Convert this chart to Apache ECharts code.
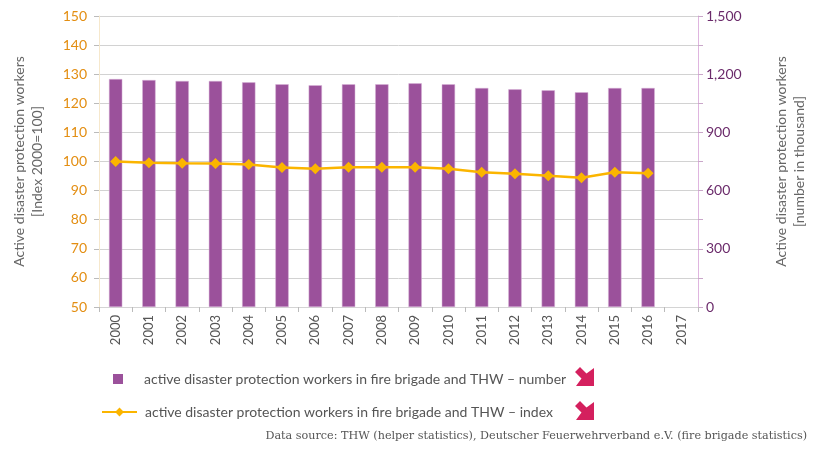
<!DOCTYPE html>
<html>
<head>
<meta charset="utf-8">
<script src="https://cdn.jsdelivr.net/npm/echarts@6/dist/echarts.min.js"></script>
<style>
  html, body { margin: 0; padding: 0; background: #fff; }
  #chart { width: 816px; height: 450px; }
</style>
</head>
<body>
<div id="chart"></div>
<script>
// data
const years = ['2000', '2001', '2002', '2003', '2004', '2005', '2006', '2007', '2008',
  '2009', '2010', '2011', '2012', '2013', '2014', '2015', '2016', '2017']
const workersNumber = [1175, 1170, 1165, 1165, 1158, 1148, 1143, 1148, 1148,
  1153, 1148, 1129, 1122, 1117, 1107, 1129, 1129, null]
const workersIndex = [100.0, 99.6, 99.4, 99.3, 99.0, 97.9, 97.5, 98.0, 98.0,
  98.0, 97.5, 96.3, 95.8, 95.1, 94.4, 96.3, 96.0, null]

const nameNumber = 'active disaster protection workers in fire brigade and THW \u2013 number'
const nameIndex = 'active disaster protection workers in fire brigade and THW \u2013 index'

const font = 'Lato'
const purple = '#9b519b'
const amber = '#fbb500'
const arrowRed = '#d4205e'

// down-right trend arrow (decoration, not data)
function arrow(x, y) {
  return {
    type: 'polygon',
    left: x, top: y,
    shape: { points: [[0, 5], [5, 0], [11.5, 6.5], [19, 1], [19, 19], [1, 19], [6.5, 11.5]] },
    style: { fill: arrowRed }
  }
}

const chart = echarts.init(document.getElementById('chart'))
chart.setOption({
  animation: false,
  textStyle: { fontFamily: font },
  title: {
    text: 'Data source: THW (helper statistics), Deutscher Feuerwehrverband e.V. (fire brigade statistics)',
    right: 4,
    bottom: 3,
    textStyle: { fontFamily: 'DejaVu Serif', fontSize: 11.2, fontWeight: 'normal', color: '#555' }
  },
  grid: { left: 99, right: 100, top: 16, bottom: 143 },
  legend: [{
    data: [{ name: nameNumber, icon: 'rect' }],
    left: 108, top: 367,
    itemWidth: 10, itemHeight: 10,
    itemStyle: { borderWidth: 0 },
    textStyle: { fontSize: 14, color: '#555', padding: [0, 0, 0, 16] }
  }, {
    data: [nameIndex],
    left: 96, top: 400,
    itemWidth: 35, itemHeight: 11,
    textStyle: { fontSize: 14, color: '#555', padding: [0, 0, 0, 3] }
  }],
  graphic: [arrow(575, 367), arrow(575, 401)],
  xAxis: {
    type: 'category',
    data: years,
    axisLine: { lineStyle: { color: '#d4d4d4' } },
    axisTick: { show: true, length: 5, lineStyle: { color: '#bbb' } },
    axisLabel: { rotate: 90, fontSize: 13, color: '#555', margin: 8 }
  },
  yAxis: [{
    type: 'value',
    min: 50, max: 150, interval: 10,
    name: 'Active disaster protection workers\n[Index 2000=100]',
    nameLocation: 'middle',
    nameGap: 53,
    nameTextStyle: { fontSize: 14, color: '#666', lineHeight: 18 },
    axisLine: { show: true, lineStyle: { color: '#f6e8cc' } },
    axisTick: { show: true, length: 5, lineStyle: { color: '#bbb' } },
    axisLabel: { fontSize: 14, color: '#e38e12', margin: 12 },
    splitLine: { lineStyle: { color: '#d2d2d2' } }
  }, {
    type: 'value',
    min: 0, max: 1500, interval: 150,
    name: 'Active disaster protection workers\n[number in thousand]',
    nameLocation: 'middle',
    nameGap: 74,
    nameTextStyle: { fontSize: 14, color: '#666', lineHeight: 18 },
    axisLine: { show: true, lineStyle: { color: '#dfb5df' } },
    axisTick: { show: true, length: 5, lineStyle: { color: '#c9a6c9' } },
    axisLabel: {
      fontSize: 14, color: '#6b2b6b', margin: 8,
      formatter: v => (v % 300 === 0 ? v.toLocaleString('en-US') : '')
    },
    splitLine: { show: false }
  }],
  series: [{
    name: nameNumber,
    type: 'bar',
    yAxisIndex: 1,
    barWidth: '40%',
    data: workersNumber,
    itemStyle: { color: purple, borderColor: '#d9b5d9', borderWidth: 0.5 },
    z: 2
  }, {
    name: nameIndex,
    type: 'line',
    yAxisIndex: 0,
    data: workersIndex,
    symbol: 'diamond',
    symbolSize: 11,
    lineStyle: { color: amber, width: 2.5 },
    itemStyle: { color: amber },
    z: 3
  }]
})
</script>
</body>
</html>
